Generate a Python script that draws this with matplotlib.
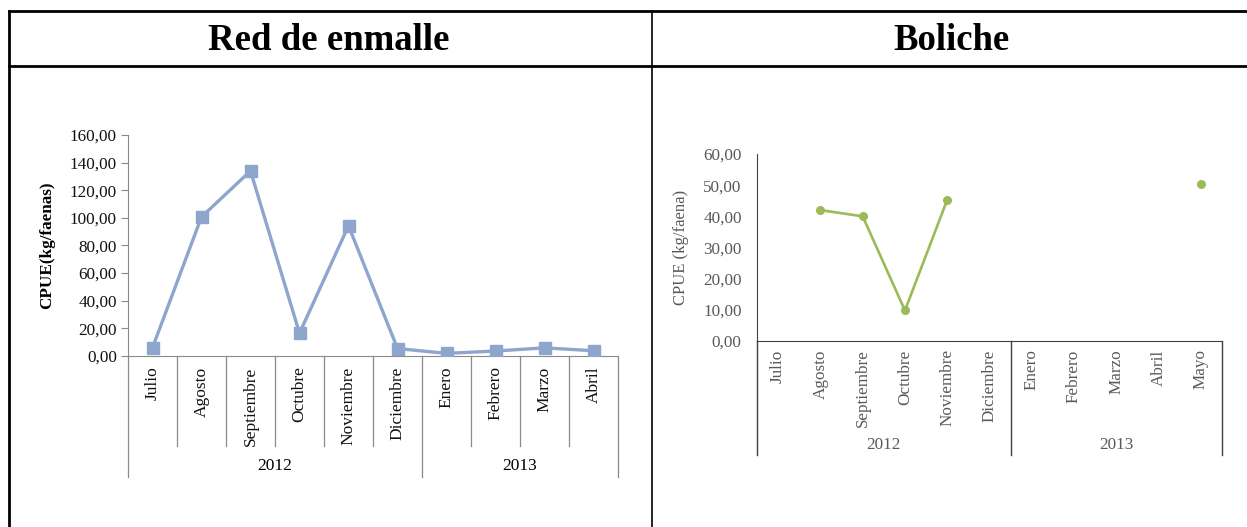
import numpy as np
import matplotlib
matplotlib.use("Agg")
import matplotlib.pyplot as plt
from matplotlib.lines import Line2D

plt.rcParams['font.family'] = ['Liberation Serif', 'DejaVu Serif']

# Datos: Red de enmalle
meses_red = ['Julio', 'Agosto', 'Septiembre', 'Octubre', 'Noviembre', 'Diciembre',
             'Enero', 'Febrero', 'Marzo', 'Abril']
cpue_red = [6.0, 100.7, 134.0, 16.5, 94.3, 5.4, 1.9, 3.6, 5.9, 3.8]
anios_red = ['2012', '2013']
n_2012_red = 6

# Datos: Boliche
meses_bol = ['Julio', 'Agosto', 'Septiembre', 'Octubre', 'Noviembre', 'Diciembre',
             'Enero', 'Febrero', 'Marzo', 'Abril', 'Mayo']
cpue_bol = [np.nan, 42.0, 40.0, 9.8, 45.3, np.nan, np.nan, np.nan, np.nan, np.nan, 50.4]
anios_bol = ['2012', '2013']
n_2012_bol = 6

titulos = ['Red de enmalle', 'Boliche']

W, H = 1247, 527
fig = plt.figure(figsize=(W / 100, H / 100), dpi=100)


def caja(x0, x1, y0, y1):
    # pixeles -> fraccion de figura
    return [x0 / W, 1 - y1 / H, (x1 - x0) / W, (y1 - y0) / H]


def linea_fig(xs, ys, lw):
    fig.add_artist(Line2D([x / W for x in xs], [1 - y / H for y in ys],
                          color='black', lw=lw, solid_capstyle='projecting'))


# Tabla
linea_fig([9, W], [11, 11], 2.0)
linea_fig([9, W], [66, 66], 2.0)
linea_fig([9, 9], [11, H], 2.0)
linea_fig([652, 652], [11, H], 1.2)
fig.text(329 / W, 1 - 40 / H, titulos[0], ha='center', va='center',
         fontsize=26.5, fontweight='bold')
fig.text(952 / W, 1 - 40 / H, titulos[1], ha='center', va='center',
         fontsize=26.5, fontweight='bold')

# ---- Red de enmalle ----
gris = '#8a8a8a'
ax1 = fig.add_axes(caja(128, 618, 135, 356))
x1 = np.arange(len(meses_red))
ax1.plot(x1, cpue_red, color='#8EA5CE', lw=2.4, marker='s', markersize=8.5, zorder=3)
ax1.set_xlim(-0.5, len(meses_red) - 0.5)
ax1.set_ylim(0, 160)
ax1.set_yticks(np.arange(0, 161, 20))
ax1.set_yticklabels([('%.2f' % v).replace('.', ',') for v in np.arange(0, 161, 20)],
                    fontsize=12.3, color='#111111')
ax1.set_ylabel('CPUE(kg/faenas)', fontsize=12.3, fontweight='bold')
ax1.yaxis.set_label_coords(-0.149, 0.5)
ax1.tick_params(axis='y', length=5, color=gris, pad=3)
ax1.set_xticks(x1)
ax1.set_xticklabels(meses_red, rotation=90, fontsize=12.5, color='#111111')
ax1.tick_params(axis='x', length=0, pad=7.5)
for s in ['top', 'right']:
    ax1.spines[s].set_visible(False)
ax1.spines['left'].set_color(gris)
ax1.spines['bottom'].set_color(gris)
ax1.patch.set_alpha(0)

tr = ax1.get_xaxis_transform()
for k in range(len(meses_red) + 1):
    xb = k - 0.5
    fondo = -0.548 if k in (0, n_2012_red, len(meses_red)) else -0.407
    ax1.plot([xb, xb], [0, fondo], transform=tr, color=gris, lw=0.9, clip_on=False)
ax1.text((n_2012_red - 1) / 2, -0.498, anios_red[0], transform=tr, ha='center', va='center',
         fontsize=12.5)
ax1.text((n_2012_red + len(meses_red) - 1) / 2, -0.498, anios_red[1], transform=tr,
         ha='center', va='center', fontsize=12.5)

# ---- Boliche ----
oscuro = '#404040'
texto = '#595959'
ax2 = fig.add_axes(caja(757, 1222, 154, 341))
x2 = np.arange(len(meses_bol))
ax2.plot(x2, cpue_bol, color='#9BBB59', lw=1.9, marker='o', markersize=5.5, zorder=3)
ax2.set_xlim(-0.5, len(meses_bol) - 0.5)
ax2.set_ylim(0, 60)
ax2.set_yticks(np.arange(0, 61, 10))
ax2.set_yticklabels([('%.2f' % v).replace('.', ',') for v in np.arange(0, 61, 10)],
                    fontsize=12.3, color=texto)
ax2.tick_params(axis='y', length=0, pad=11)
ax2.set_ylabel('CPUE (kg/faena)', fontsize=12, color=texto)
ax2.yaxis.set_label_coords(-0.146, 0.5)
ax2.set_xticks(x2)
ax2.set_xticklabels(meses_bol, rotation=90, fontsize=12.3, color=texto)
ax2.tick_params(axis='x', length=0, pad=6)
for s in ['top', 'right']:
    ax2.spines[s].set_visible(False)
ax2.spines['left'].set_color(oscuro)
ax2.spines['bottom'].set_color(oscuro)
ax2.patch.set_alpha(0)

tr2 = ax2.get_xaxis_transform()
for k in (0, n_2012_bol, len(meses_bol)):
    xb = k - 0.5
    ax2.plot([xb, xb], [0, -0.61], transform=tr2, color=oscuro, lw=1.0, clip_on=False)
ax2.text((n_2012_bol - 1) / 2, -0.556, anios_bol[0], transform=tr2, ha='center', va='center',
         fontsize=12.3, color=texto)
ax2.text((n_2012_bol + len(meses_bol) - 1) / 2, -0.556, anios_bol[1], transform=tr2,
         ha='center', va='center', fontsize=12.3, color=texto)

fig.savefig('out.png', dpi=100)
